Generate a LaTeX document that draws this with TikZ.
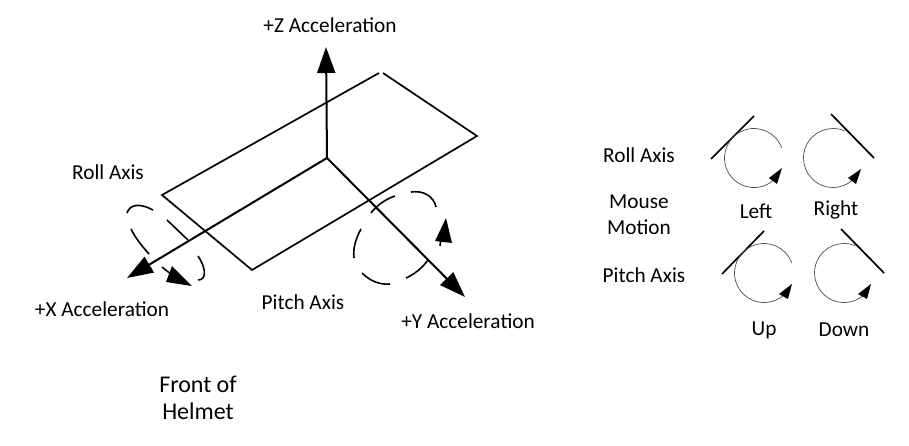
\documentclass[tikz,border=0pt]{standalone}
\usepackage{fontspec}
\setmainfont{Carlito}
\usetikzlibrary{calc, positioning, arrows.meta}
\tikzset{
	lbl/.style={text centered, inner sep=0pt, font=\fontsize{21.3}{26}\selectfont},
	bigl/.style={text centered, align=center, inner sep=0pt, font=\fontsize{24}{27}\selectfont},
	axisl/.style={line width=2, -{Triangle[length=26,width=18]}},
	edge/.style={line width=1.7},
	dashy/.style={line width=1.6},
	motion/.style={line width=0.7, black!70},
	head/.style={fill=black, draw=none}
}
\begin{document}
\begin{tikzpicture}
		[x=1pt, y=-1pt]
		\useasboundingbox (0,0) rectangle (909,445);
		% nodes %
		\node[lbl] (zlab) at (330,25) {+Z Acceleration};
		\node[lbl] (rolla) at (108,172) {Roll Axis};
		\node[lbl] (xlab) at (102,309) {+X Acceleration};
		\node[lbl] (pitcha) at (303,302) {Pitch Axis};
		\node[lbl] (ylab) at (468,321) {+Y Acceleration};
		\node[bigl] (front) at (198,398) {Front of\\Helmet};
		\node[lbl] (rollb) at (639,155) {Roll Axis};
		\node[lbl, align=center] (mouse) at (639,215) {Mouse\\Motion};
		\node[lbl] (pitchb) at (644,275) {Pitch Axis};
		\node[lbl] (left) at (756,211) {Left};
		\node[lbl] (right) at (836,210) {Right};
		\node[lbl] (up) at (764,330) {Up};
		\node[lbl] (down) at (844,330) {Down};

		% plate corners and axis ends %
		\coordinate (o) at (327,158);
		\coordinate (ztip) at (326,47);
		\coordinate (xtip) at (127,278);
		\coordinate (ytip) at (465,297);
		\coordinate (pa) at (162,195);
		\coordinate (pb) at (379,73);
		\coordinate (pc) at (383,73);
		\coordinate (pd) at (477,136);
		\coordinate (pe) at (252,270);

		% edges %
		\draw[axisl] (o) -- (ztip);
		\draw[axisl] (o) -- (xtip);
		\draw[axisl] (o) -- (ytip);
		\draw[edge, line join=miter] (pb) -- (pa) -- (pe) -- (pd) -- (pc);

		% roll dashes %
		\draw[dashy] (127,213) .. controls (130,204) and (140,203) .. (153,210);
		\draw[dashy] (167,220) -- (188,240);
		\draw[dashy] (198,256) .. controls (205,266) and (208,280) .. (198,280);
		\draw[dashy] (131,229) .. controls (136,239) and (142,246) .. (149,254);
		\draw[dashy] (162,267) -- (172,275);
		\fill[head] (192,286) -- (172,266) -- (166,282) -- cycle;

		% pitch dashes %
		\draw[dashy] (371,213) .. controls (377,205) and (386,199) .. (395,196);
		\draw[dashy] (411,192) .. controls (424,190) and (434,197) .. (436,207);
		\draw[dashy] (361,229) .. controls (355,240) and (353,249) .. (354,258);
		\draw[dashy] (362,273) .. controls (370,281) and (380,285) .. (390,284);
		\draw[dashy] (406,278) .. controls (415,274) and (423,267) .. (428,260);
		\draw[dashy] (441,238) -- (440,246);
		\fill[head] (446,218) -- (435,241) -- (452,243) -- cycle;

		% mouse motion %
		\coordinate (lc) at (754,158);
		\coordinate (rc) at (833,158);
		\coordinate (uc) at (764,273);
		\coordinate (dc) at (844,273);

		\draw[edge] (711,159) -- (754,116);
		\draw[motion] ($(lc)+(-20:29.5)$) arc[start angle=-20, end angle=-310, radius=29.5];
		\fill[head] (782,168) -- (769,178) -- (777,184) -- cycle;

		\draw[edge] (831,114) -- (874,158);
		\draw[motion] ($(rc)+(-67:29.5)$) arc[start angle=-67, end angle=-310, radius=29.5];
		\fill[head] (861,169) -- (848,178) -- (856,184) -- cycle;

		\draw[edge] (722,274) -- (764,231);
		\draw[motion] ($(uc)+(-20:29.5)$) arc[start angle=-20, end angle=-310, radius=29.5];
		\fill[head] (792,284) -- (779,294) -- (788,299) -- cycle;

		\draw[edge] (841,229) -- (884,273);
		\draw[motion] ($(dc)+(-67:29.5)$) arc[start angle=-67, end angle=-310, radius=29.5];
		\fill[head] (871,284) -- (858,294) -- (867,299) -- cycle;
		\end{tikzpicture}
\end{document}
